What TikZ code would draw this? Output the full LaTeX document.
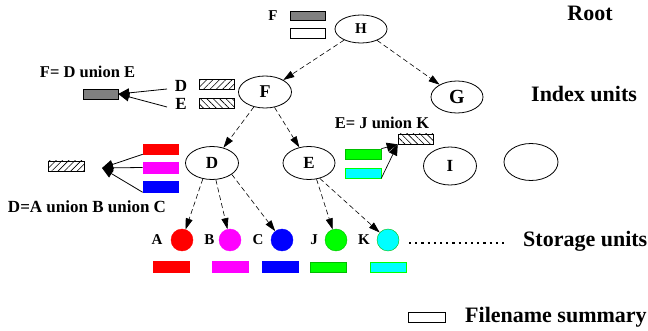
\documentclass[tikz,border=0pt]{standalone}
\usepackage{fontspec}
\setmainfont{Liberation Serif}[BoldFont={Liberation Serif Bold}]
\newfontfamily\tnr{Liberation Serif Bold}
\usetikzlibrary{shapes.geometric,arrows.meta,patterns.meta}
\definecolor{darkfill}{gray}{0.5}
\definecolor{cred}{RGB}{255,0,0}
\definecolor{cmag}{RGB}{255,0,255}
\definecolor{cblue}{RGB}{0,0,255}
\definecolor{cgreen}{RGB}{0,255,0}
\definecolor{ccyan}{RGB}{0,255,255}
\definecolor{cgreenline}{RGB}{0,190,0}
\tikzset{
  ell/.style={draw, ellipse, inner sep=0pt, line width=0.8pt, font=\tnr\fontsize{17}{17}\selectfont},
  lbl/.style={font=\tnr\fontsize{15}{15}\selectfont, inner sep=0pt},
  biglbl/.style={font=\tnr\fontsize{22}{22}\selectfont, inner sep=0pt},
  eqlbl/.style={font=\tnr\fontsize{16.5}{16.5}\selectfont, inner sep=0pt},
  bar/.style={minimum width=35pt, minimum height=10pt, inner sep=0pt, draw, line width=0.6pt},
  dark/.style={bar, fill=darkfill},
  hatchne/.style={bar, pattern={Lines[angle=45,distance=4.5pt,line width=0.6pt]}},
  hatchnw/.style={bar, pattern={Lines[angle=-45,distance=4.5pt,line width=0.6pt]}},
  cbar/.style={bar, fill=#1, draw=#1},
  disc/.style={circle, minimum size=22pt, inner sep=0pt, fill=#1, draw=#1},
  darr/.style={dashed, dash pattern=on 5pt off 3pt, -{Triangle[length=11pt,width=7pt]}, line width=0.6pt},
  sarr/.style={-{Triangle[length=11pt,width=9pt]}, line width=0.8pt},
}
\begin{document}
\begin{tikzpicture}[x=1pt,y=-1pt]
\useasboundingbox (0,0) rectangle (648,331);

% ellipses
\node[ell, minimum width=52pt, minimum height=28pt, font=\tnr\fontsize{15}{15}\selectfont] (H) at (361,29) {H};
\node[ell, minimum width=52pt, minimum height=32pt, font=\tnr\fontsize{20}{20}\selectfont] (G) at (457,97) {G};
\node[ell, minimum width=53pt, minimum height=32pt, font=\tnr\fontsize{18}{18}\selectfont] (F) at (265,92) {F};
\node[ell, minimum width=53pt, minimum height=33pt] (D) at (212,163) {D};
\node[ell, minimum width=52pt, minimum height=33pt] (E) at (309,163) {E};
\node[ell, minimum width=53pt, minimum height=38pt] (I) at (450,166) {I};
\node[ell, minimum width=54pt, minimum height=37pt] (X) at (531,162) {};

% storage discs
\node[disc=cred] (A) at (182,240) {};
\node[disc=cmag] (B) at (230,240) {};
\node[disc=cblue] (C) at (282,240) {};
\node[disc=cgreen, draw=cgreenline] (J) at (336,240) {};
\node[disc=ccyan, draw=cgreenline] (K) at (388,240) {};
\node[lbl] (Al) at (157,240) {A};
\node[lbl] (Bl) at (209.5,240) {B};
\node[lbl] (Cl) at (258,240) {C};
\node[lbl] (Jl) at (314,240) {J};
\node[lbl] (Kl) at (364,240) {K};

% bottom summary bars
\node[cbar=cred, minimum width=36pt, minimum height=11pt] (ra) at (171,266.5) {};
\node[cbar=cmag, minimum width=36pt, minimum height=11pt] (rb) at (230.5,266.5) {};
\node[cbar=cblue, minimum width=36pt, minimum height=11pt] (rc) at (280,266.5) {};
\node[cbar=cgreen, minimum width=36pt, minimum height=10pt, draw=cgreenline] (rj) at (328.5,267) {};
\node[cbar=ccyan, minimum width=36pt, minimum height=10pt, draw=cgreen] (rk) at (388,267) {};

% dotted continuation
\coordinate (dots1) at (409,243);
\coordinate (dots2) at (507,243);
\draw[line width=2.2pt, dash pattern=on 2.2pt off 4pt] (dots1) -- (dots2);

% root summaries
\node[lbl] (Ft) at (273,16) {F};
\node[dark, minimum height=9pt] (hb1) at (307.5,15.5) {};
\node[bar] (hb2) at (307.5,33) {};

% F union
\node[eqlbl] (Feq) at (87.5,72) {F= D union E};
\node[dark] (fb) at (100.5,94) {};
\node[lbl, font=\tnr\fontsize{17}{17}\selectfont] (FDl) at (181,86) {D};
\node[hatchne] (fdb) at (216.5,84.5) {};
\node[lbl, font=\tnr\fontsize{17}{17}\selectfont] (FEl) at (181,104) {E};
\node[hatchnw] (feb) at (216.5,103.5) {};
\coordinate (fd1) at (167,89);
\coordinate (fe1) at (167,107);
\draw[sarr] (fd1) -- (fb.east);
\draw[sarr] (fe1) -- (fb.east);

% D union
\node[cbar=cred] (dr) at (160.5,149) {};
\node[cbar=cmag, minimum height=11pt] (dm) at (160.5,167.5) {};
\node[cbar=cblue, minimum height=11pt] (db) at (160.5,186.5) {};
\node[hatchne, minimum width=36pt] (dh) at (66,166) {};
\coordinate (dtip) at (102,168);
\draw[sarr] (dr.south west) -- (dtip);
\draw[sarr] (dm.west) -- (dtip);
\draw[sarr] (db.south west) -- (dtip);
\node[eqlbl, font=\tnr\fontsize{17}{17}\selectfont] (Deq) at (87,207) {D=A union B union C};

% E union
\node[eqlbl] (Eeq) at (382,123) {E= J union K};
\node[hatchnw] (eh) at (415.5,139) {};
\node[cbar=cgreen, minimum width=36pt, draw=cgreenline] (eg) at (363,154) {};
\node[cbar=ccyan, minimum width=36pt, draw=cgreen] (ec) at (363,173) {};
\draw[sarr, line width=0.7pt] (eg.north east) -- (eh.south west);
\draw[sarr, line width=0.7pt] (ec.south east) -- (eh.south west);

% tree edges
\draw[darr] (H) -- (F);
\draw[darr] (H) -- (G);
\draw[darr] (F) -- (D);
\draw[darr] (F) -- (E);
\draw[darr] (D.240) -- (A);
\draw[darr] (D.283) -- (B);
\draw[darr] (D.330) -- (C);
\draw[darr] (E.295) -- (J);
\draw[darr] (E.305) -- (K);

% level labels
\node[biglbl] (root) at (590,13) {Root};
\node[biglbl, anchor=west] (idx) at (531,94) {Index units};
\node[biglbl, anchor=west] (sto) at (523,241) {Storage units};
\node[bar, minimum width=37pt] (leg) at (426.5,317) {};
\node[biglbl, anchor=west] (legt) at (465,317) {Filename summary};
\end{tikzpicture}
\end{document}
